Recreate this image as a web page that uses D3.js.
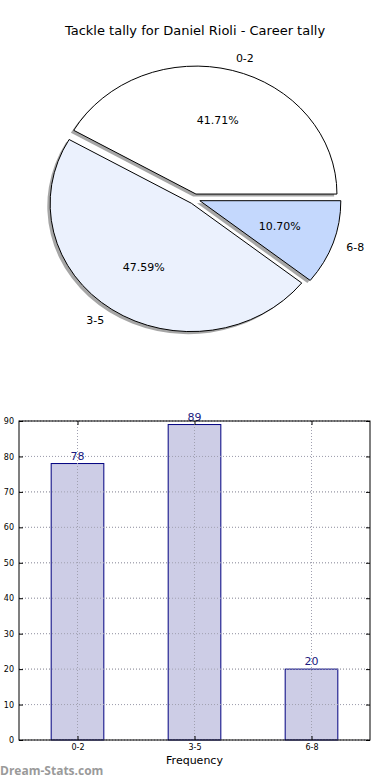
<!DOCTYPE html>
<html lang="en">
<head>
    <meta charset="UTF-8">
    <title>Tackle tally</title>
    <script src="https://d3js.org/d3.v7.min.js"></script>
    <style>
        body { margin: 0; background: white; }
        svg { display: block; font-family: "DejaVu Sans", sans-serif; }
    </style>
    <script>
        const categories = ["0-2", "3-5", "6-8"];
        const counts = [78, 89, 20];
        const pieColors = ["#ffffff", "#ebf1fd", "#c4d8fd"];
        const yTicks = [0, 10, 20, 30, 40, 50, 60, 70, 80, 90];

        document.addEventListener("DOMContentLoaded", () => makeGraph());

        function makeGraph() {
            const svg = d3.select("svg").attr("width", 390).attr("height", 780);

            svg.append("text").attr("x", 195).attr("y", 35)
                .attr("text-anchor", "middle").attr("font-size", "13px")
                .text("Tackle tally for Daniel Rioli - Career tally");

            // ---- pie (matplotlib style, not equal aspect so it's an ellipse)
            const cx = 194.5, cy = 199, rx = 141, ry = 128, explode = 0.04;
            const total = d3.sum(counts);
            // matplotlib starts at 3 o'clock and goes counter-clockwise
            const pie = d3.pie().sort(null).startAngle(Math.PI / 2).endAngle(Math.PI / 2 - 2 * Math.PI);
            const arcs = pie(counts);
            const arc = d3.arc().innerRadius(0).outerRadius(1);

            const off = d => {
                const m = (d.startAngle + d.endAngle) / 2;
                return [Math.sin(m), -Math.cos(m)];
            };

            const pg = svg.append("g");
            // shadows first (behind everything)
            pg.selectAll(".shadow").data(arcs).enter().append("path")
                .attr("transform", d => {
                    const o = off(d);
                    return `translate(${cx + explode * rx * o[0] - 0.02 * rx},${cy + explode * ry * o[1] + 0.02 * ry}) scale(${rx},${ry})`;
                })
                .attr("d", arc)
                .attr("fill", "#4d4d4d").attr("opacity", 0.5);

            pg.selectAll(".wedge").data(arcs).enter().append("path")
                .attr("transform", d => {
                    const o = off(d);
                    return `translate(${cx + explode * rx * o[0]},${cy + explode * ry * o[1]}) scale(${rx},${ry})`;
                })
                .attr("d", arc)
                .attr("fill", (d, i) => pieColors[i])
                .attr("stroke", "black").attr("stroke-width", 1)
                .attr("vector-effect", "non-scaling-stroke");

            arcs.forEach((d, i) => {
                const o = off(d);
                const bx = cx + explode * rx * o[0], by = cy + explode * ry * o[1];
                // category labels at 1.1 radius
                svg.append("text")
                    .attr("x", bx + 1.1 * rx * o[0]).attr("y", by + 1.1 * ry * o[1])
                    .attr("dy", "0.35em").attr("font-size", "11px")
                    .attr("text-anchor", o[0] > 0 ? "start" : "end")
                    .text(categories[i]);
                // percentages at 0.6 radius
                svg.append("text")
                    .attr("x", bx + 0.6 * rx * o[0]).attr("y", by + 0.6 * ry * o[1])
                    .attr("dy", "0.35em").attr("font-size", "11px")
                    .attr("text-anchor", "middle")
                    .text((counts[i] / total * 100).toFixed(2) + "%");
            });

            // ---- bar chart
            const left = 19, right = 370, top = 421, bottom = 740;
            const x = d3.scaleLinear().domain([-0.5, 2.5]).range([left, right]);
            const y = d3.scaleLinear().domain([0, 90]).range([bottom, top]);
            const barW = 0.45;

            const bg = svg.append("g");
            // grid
            bg.selectAll(".hg").data(yTicks).enter().append("line")
                .attr("x1", left).attr("x2", right)
                .attr("y1", d => y(d)).attr("y2", d => y(d))
                .attr("stroke", "#b0b0b0").attr("stroke-dasharray", "1,2");
            bg.selectAll(".vg").data(categories).enter().append("line")
                .attr("x1", (d, i) => x(i)).attr("x2", (d, i) => x(i))
                .attr("y1", top).attr("y2", bottom)
                .attr("stroke", "#b0b0b0").attr("stroke-dasharray", "1,2");

            bg.selectAll(".bar").data(counts).enter().append("rect")
                .attr("x", (d, i) => x(i - barW / 2))
                .attr("width", x(barW) - x(0))
                .attr("y", d => y(d))
                .attr("height", d => bottom - y(d))
                .attr("fill", "#cdcde6")
                .attr("stroke", "#000080").attr("stroke-width", 1);

            // grid shows through bars in the reference
            bg.selectAll(".vg2").data(categories).enter().append("line")
                .attr("x1", (d, i) => x(i)).attr("x2", (d, i) => x(i))
                .attr("y1", top).attr("y2", bottom)
                .attr("stroke", "#a0a0b0").attr("stroke-dasharray", "1,2");
            bg.selectAll(".hg2").data(yTicks).enter().append("line")
                .attr("x1", left).attr("x2", right)
                .attr("y1", d => y(d)).attr("y2", d => y(d))
                .attr("stroke", "#a0a0b0").attr("stroke-dasharray", "1,2");

            bg.selectAll(".val").data(counts).enter().append("text")
                .attr("x", (d, i) => x(i)).attr("y", d => y(d) - 4)
                .attr("text-anchor", "middle").attr("font-size", "11px")
                .attr("fill", "#1a1a80")
                .text(d => d);

            // axes
            const ya = bg.append("g").attr("transform", `translate(${left},0)`)
                .call(d3.axisLeft(y).tickValues(yTicks).tickSize(-4).tickPadding(5));
            const yr = bg.append("g").attr("transform", `translate(${right},0)`)
                .call(d3.axisRight(y).tickValues(yTicks).tickSize(-4).tickFormat(""));
            const xa = bg.append("g").attr("transform", `translate(0,${bottom})`)
                .call(d3.axisBottom(x).tickValues([0, 1, 2]).tickSize(-4).tickPadding(4)
                    .tickFormat(i => categories[i]));
            const xt = bg.append("g").attr("transform", `translate(0,${top})`)
                .call(d3.axisTop(x).tickValues([0, 1, 2]).tickSize(-4).tickFormat(""));
            [ya, yr, xa, xt].forEach(g => {
                g.select(".domain").remove();
                g.selectAll("text").attr("font-size", "8px").attr("font-family", "DejaVu Sans, sans-serif");
            });

            bg.append("rect").attr("x", left).attr("y", top)
                .attr("width", right - left).attr("height", bottom - top)
                .attr("fill", "none").attr("stroke", "black");

            svg.append("text").attr("x", (left + right) / 2).attr("y", 764)
                .attr("text-anchor", "middle").attr("font-size", "11px")
                .text("Frequency");

            svg.append("text").attr("x", 0).attr("y", 775)
                .attr("font-size", "12px").attr("font-weight", "bold")
                .attr("fill", "#9a9a9a").attr("font-family", "Open Sans, DejaVu Sans, sans-serif")
                .text("Dream-Stats.com");
        }
    </script>
</head>
<body>
    <svg></svg>
</body>
</html>
